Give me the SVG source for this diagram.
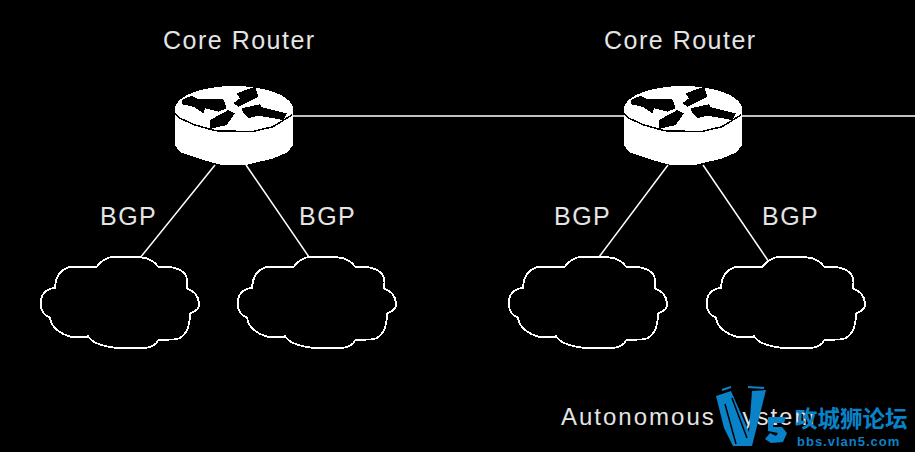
<svg xmlns="http://www.w3.org/2000/svg" xmlns:xlink="http://www.w3.org/1999/xlink" width="915" height="452" viewBox="0 0 915 452">
<style>
.lbl{font-family:"Liberation Sans",Arial,sans-serif;font-size:25px;letter-spacing:1.500px;fill:#e4e4e4}
.ln{stroke:#fff;fill:none;stroke-width:1.500}
.cl{stroke:#fff;fill:#000;stroke-width:1.800;shape-rendering:crispEdges}
.wm{fill:#0a82c8}
</style>
<defs>
<g id="router" shape-rendering="crispEdges">
<path d="M175 106V145L180 152L203 160L220 164.500H248L273 158.500L288 152L293 145V106Z" fill="#fff"/>
<ellipse cx="234" cy="109" rx="58.800" ry="23" fill="#fff"/>
<path d="M175 113L180 118.300L195 125L215 130.700L252 131.700L273 126.700L292 115" fill="none" stroke="#000" stroke-width="1.500"/>
<path d="M181.700 100L191.700 95.700L198.300 99L223.300 99L226.700 108.300L218.300 111.700L205 108.300L203.300 113.300L193.300 106.700L181.700 104.300Z" fill="#000"/>
<path d="M255 86.700L236.700 93.300L240 98.300L233.300 103.300L238.300 106.700L258.300 96.700Z" fill="#000"/>
<path d="M241.700 108.300L260 104.300L261.700 107.300L286.700 113.300L283.300 120L258.300 115.700L248.300 118.300L243.300 113.300Z" fill="#000"/>
<path d="M228.300 110L210 120L210 129L226.700 125L235 113.300Z" fill="#000"/>
</g>
<path id="cloud" class="cl" d="M140 257.300L115 256.700Q104 257 96.700 266.700L70.700 266.700Q56 270 55 287.700Q41 290 40.700 303Q41 315 50 317.700Q52 332 72.700 337.300L88.300 337.300L87.300 335Q92 345 115 347.700L146.700 347.700Q156 346 158.300 340L176.700 339.300Q190 335 190 313.300Q200 310 199 303.300Q198 292 186.700 288.300Q191 270 170 267L158.300 266.700Q152 258 140 257.300Z"/>
</defs>
<rect width="915" height="452" fill="#000"/>
<g id="connectors">
<path class="ln" d="M293 116H625M742 116H915"/>
<path class="ln" d="M215 165L140 258M246 165L309 257M668 165L599 257M703 165L769 262"/>
</g>
<g id="router-1"><use xlink:href="#router" href="#router"/><text class="lbl" x="163" y="49">Core Router</text></g>
<g id="router-2"><use xlink:href="#router" href="#router" x="449"/><text class="lbl" x="604" y="49">Core Router</text></g>
<g id="cloud-1"><use xlink:href="#cloud" href="#cloud"/></g>
<g id="cloud-2"><use xlink:href="#cloud" href="#cloud" x="197"/></g>
<g id="cloud-3"><use xlink:href="#cloud" href="#cloud" x="468"/></g>
<g id="cloud-4"><use xlink:href="#cloud" href="#cloud" x="666"/></g>
<g id="labels">
<text class="lbl" x="100" y="225">BGP</text>
<text class="lbl" x="299" y="225">BGP</text>
<text class="lbl" x="554" y="225">BGP</text>
<text class="lbl" x="762" y="225">BGP</text>
<text class="lbl" x="561" y="425" style="font-size:24px;letter-spacing:2px">Autonomous System</text>
</g>
<g id="watermark">
<path class="wm" d="M716 396L731 391L749 432L752 391L766 390L752 446L733 446L724 428Z"/>
<path d="M722 390L731 387M748 387L764 388" stroke="#0a82c8" stroke-width="2"/>
<path d="M732 398L747 438M725 404L736 444" stroke="#000" stroke-width="1.500"/>
<path class="wm" d="M768 417H786L784 423H774L773 427H782L787 433L783 442L771 443L765 439L770 433L776 436L778 433L768 431Z"/>
<text x="795" y="427" style="font-family:'Noto Sans CJK SC',sans-serif;font-size:22.500px;font-weight:700;fill:#0a82c8">攻城狮论坛</text>
<text x="797" y="446" style="font-family:'Liberation Sans',sans-serif;font-size:13px;font-weight:700;letter-spacing:1px;fill:#0a82c8">bbs.vlan5.com</text>
</g>
</svg>
